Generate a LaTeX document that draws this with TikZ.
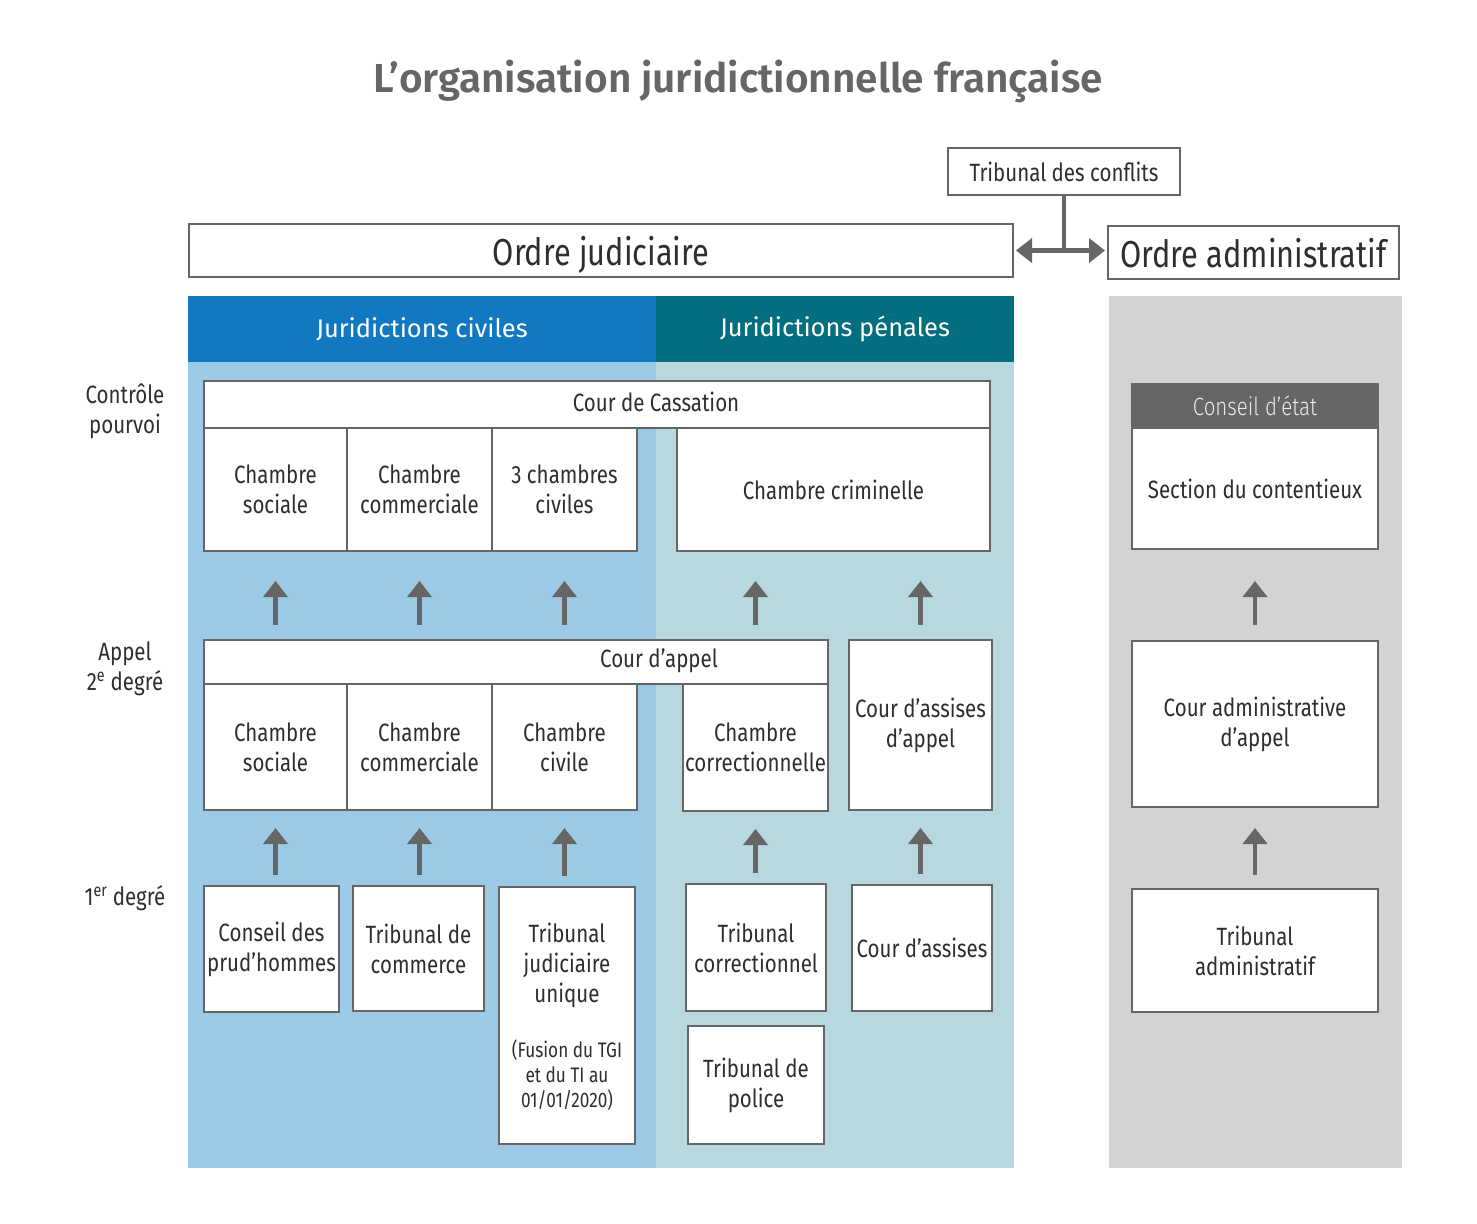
\documentclass[tikz,border=0pt]{standalone}
\usepackage{fontspec}
\setmainfont{Fira Sans}
\newfontfamily\cond[FakeStretch=0.82]{Fira Sans}
\newfontfamily\condlight[FakeStretch=0.82]{Fira Sans Light}
\newfontfamily\wide{Fira Sans}
\newfontfamily\widesemi{Fira Sans SemiBold}
\usetikzlibrary{arrows.meta}
\definecolor{civh}{HTML}{1179C2}
\definecolor{civl}{HTML}{9CC9E6}
\definecolor{penh}{HTML}{036E7F}
\definecolor{penl}{HTML}{B8D8DF}
\definecolor{admg}{HTML}{D3D3D3}
\definecolor{bordc}{HTML}{666666}
\definecolor{txtc}{HTML}{2E2E2E}
\definecolor{titc}{HTML}{666666}
\newcommand\boxfont{\cond\fontsize{25}{30}\selectfont}
\newcommand\mybox[7][]{\node[box,#1,minimum width={(#5-#3)*1pt},minimum height={(#6-#4)*1pt}] (#2) at ({(#3+#5)/2},{(#4+#6)/2}) {#7};}
\begin{document}
\begin{tikzpicture}[x=1pt,y=-1pt,
  box/.style={draw=bordc, line width=2pt, fill=white, inner sep=0pt, align=center, text=txtc, font=\boxfont},
  panel/.style={draw=none, inner sep=0pt, line width=0pt},
  hdr/.style={panel, text=white, font=\wide\fontsize{25.5}{30}\selectfont},
  txt/.style={inner sep=0pt, text=txtc, font=\boxfont, align=center},
  upar/.style={-{Triangle[width=24pt,length=16pt]}, line width=4.5pt, draw=bordc},
  dblar/.style={{Triangle[width=24pt,length=16pt]}-{Triangle[width=24pt,length=16pt]}, line width=4.5pt, draw=bordc},
  conn/.style={line width=4.5pt, draw=bordc}]
\useasboundingbox[fill=white] (0,0) rectangle (1477,1223);
% title
\node[inner sep=0pt, text=titc, font=\widesemi\fontsize{40.5}{48}\selectfont] (title) at (738,81) {L’organisation juridictionnelle française};
% top boxes
\mybox{tc}{948}{148}{1180}{195}{Tribunal des conflits}
\mybox[font=\cond\fontsize{37.5}{44}\selectfont, text depth=0pt]{oj}{189}{224}{1013}{277}{Ordre judiciaire}
\mybox[font=\cond\fontsize{37.5}{44}\selectfont, text depth=0pt]{oa}{1108}{226}{1399}{279}{Ordre administratif}
\draw[conn] (tc.south) -- (tc.south |- oj.east);
\draw[dblar, shorten <=2pt, shorten >=2pt] (oj.east) -- (oa.west |- oj.east);
% panels
\mybox[panel, fill=civl]{civp}{188}{296}{656}{1168}{}
\mybox[panel, fill=penl]{penp}{656}{296}{1014}{1168}{}
\mybox[panel, fill=admg]{admp}{1109}{296}{1402}{1168}{}
\mybox[hdr, fill=civh]{civh}{188}{296}{656}{362}{Juridictions civiles}
\mybox[hdr, fill=penh]{penh}{656}{296}{1014}{362}{Juridictions pénales}
% left labels
\node[txt] (l1) at (125,411) {Contrôle\\pourvoi};
\node[txt] (l2) at (125,669) {Appel\\2\textsuperscript{e} degré};
\node[txt] (l3) at (125,898) {1\textsuperscript{er} degré};
% cassation
\mybox{cass}{204}{381}{990}{428}{}
\node[txt] (casst) at (656,402) {Cour de Cassation};
\mybox{cs1}{204}{428}{347}{551}{Chambre\\sociale}
\mybox{cs2}{347}{428}{492}{551}{Chambre\\commerciale}
\mybox{cs3}{492}{428}{637}{551}{3 chambres\\civiles}
\mybox{crim}{677}{428}{990}{551}{Chambre criminelle}
% appel
\mybox{ca}{204}{640}{828}{684}{}
\node[txt] (cat) at (659,661) {Cour d’appel};
\mybox{ca1}{204}{684}{347}{810}{Chambre\\sociale}
\mybox{ca2}{347}{684}{492}{810}{Chambre\\commerciale}
\mybox{ca3}{492}{684}{637}{810}{Chambre\\civile}
\mybox{ca4}{683}{684}{828}{811}{Chambre\\correctionnelle}
\mybox{ca5}{849}{640}{992}{810}{Cour d’assises\\d’appel}
% first degree
\mybox{pd1}{204}{886}{339}{1012}{Conseil des\\prud’hommes}
\mybox{pd2}{353}{886}{484}{1011}{Tribunal de\\commerce}
\mybox{pd3}{499}{887}{635}{1144}{}
\node[txt] (pd3a) at (567,965) {Tribunal\\judiciaire\\unique};
\node[txt, font=\cond\fontsize{21}{25}\selectfont] (pd3b) at (567,1075) {(Fusion du TGI\\et du TI au\\01/01/2020)};
\mybox{pd4}{686}{884}{826}{1011}{Tribunal\\correctionnel}
\mybox{pd5}{852}{885}{992}{1011}{Cour d’assises}
\mybox{pd6}{688}{1026}{824}{1144}{Tribunal de\\police}
% administratif
\mybox[fill=bordc, text=white!92!black, font=\condlight\fontsize{25}{30}\selectfont]{ce}{1132}{384}{1378}{428}{Conseil d’état}
\mybox{sec}{1132}{428}{1378}{549}{Section du contentieux}
\mybox{cad}{1132}{641}{1378}{807}{Cour administrative\\d’appel}
\mybox{tad}{1132}{889}{1378}{1012}{Tribunal\\administratif}
% arrows row 1
\draw[upar, shorten <=14pt, shorten >=29pt] (ca.north -| ca1.north) -- (cs1.south);
\draw[upar, shorten <=14pt, shorten >=29pt] (ca.north -| ca2.north) -- (cs2.south);
\draw[upar, shorten <=14pt, shorten >=29pt] (ca.north -| ca3.north) -- (cs3.south);
\draw[upar, shorten <=14pt, shorten >=29pt] (ca.north -| ca4.north) -- (ca4.north |- crim.south);
\draw[upar, shorten <=14pt, shorten >=29pt] (ca5.north) -- (ca5.north |- crim.south);
\draw[upar, shorten <=15pt, shorten >=31pt] (cad.north) -- (sec.south);
% arrows row 2
\draw[upar, shorten <=10pt, shorten >=17pt] (pd1.north -| ca1.south) -- (ca1.south);
\draw[upar, shorten <=10pt, shorten >=17pt] (pd2.north -| ca2.south) -- (ca2.south);
\draw[upar, shorten <=10pt, shorten >=17pt] (pd3.north -| ca3.south) -- (ca3.south);
\draw[upar, shorten <=10pt, shorten >=17pt] (pd4.north -| ca4.south) -- (ca4.south);
\draw[upar, shorten <=10pt, shorten >=17pt] (pd5.north -| ca5.south) -- (ca5.south);
\draw[upar, shorten <=13pt, shorten >=20pt] (tad.north) -- (cad.south);
\end{tikzpicture}
\end{document}
